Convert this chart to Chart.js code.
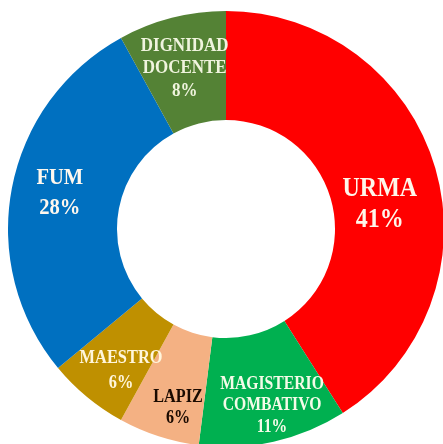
<!DOCTYPE html>
<html>
<head>
<meta charset="utf-8">
<script src="https://cdn.jsdelivr.net/npm/chart.js@4.4.1/dist/chart.umd.min.js"></script>
<style>
  html, body { margin: 0; padding: 0; background: #fff; overflow: hidden; width: 443px; height: 444px; }
  #wrap { position: absolute; left: 8px; top: 11px; width: 436px; height: 436px; }
</style>
</head>
<body>
<div id="wrap"><canvas id="chart"></canvas></div>
<script>
// Slices clockwise from 12 o'clock
const labels = ['URMA', 'MAGISTERIO COMBATIVO', 'LAPIZ', 'MAESTRO', 'FUM', 'DIGNIDAD DOCENTE'];
const labelLines = [['URMA'], ['MAGISTERIO', 'COMBATIVO'], ['LAPIZ'], ['MAESTRO'], ['FUM'], ['DIGNIDAD', 'DOCENTE']];
const values = [41, 11, 6, 6, 28, 8];
const colors = ['#FF0000', '#00B050', '#F4B183', '#BF9000', '#0070C0', '#548235'];

// label placement: [angle shift (deg), radial fraction inside ring, font size, line height, color]
const labelStyle = [
  [7, 0.43, 24, 31, '#FFF6EA'],
  [-2, 0.675, 15.7, 21.5, '#F4FBE8'],
  [-3, 0.70, 16.2, 21, '#1A0A00'],
  [-3, 0.615, 16.4, 25, '#FFF6DC'],
  [1.5, 0.56, 20.6, 30, '#FFF8EE'],
  [0, 0.525, 17, 22.5, '#F0F4DE']
];
const stretchY = 1.17;

const sliceLabels = {
  id: 'sliceLabels',
  afterDatasetsDraw(chart) {
    const ctx = chart.ctx;
    const meta = chart.getDatasetMeta(0);
    meta.data.forEach((arc, i) => {
      const p = arc.getProps(['x', 'y', 'startAngle', 'endAngle', 'innerRadius', 'outerRadius'], true);
      const st = labelStyle[i];
      const mid = (p.startAngle + p.endAngle) / 2 + st[0] * Math.PI / 180;
      const r = p.innerRadius + (p.outerRadius - p.innerRadius) * st[1];
      const cx = p.x + Math.cos(mid) * r;
      const cy = p.y + Math.sin(mid) * r;
      const lines = labelLines[i].concat([values[i] + '%']);
      const top = cy - (lines.length - 1) * st[3] / 2;
      ctx.save();
      ctx.font = 'bold ' + st[2] + 'px "Liberation Serif", "Times New Roman", serif';
      ctx.fillStyle = st[4];
      ctx.textAlign = 'center';
      ctx.textBaseline = 'middle';
      lines.forEach((t, k) => {
        ctx.save();
        ctx.translate(cx, top + k * st[3]);
        ctx.scale(1, stretchY);
        ctx.fillText(t, 0, 0);
        ctx.restore();
      });
      ctx.restore();
    });
  }
};

new Chart(document.getElementById('chart'), {
  type: 'doughnut',
  data: {
    labels,
    datasets: [{
      data: values,
      backgroundColor: colors,
      borderWidth: 0
    }]
  },
  options: {
    responsive: true,
    maintainAspectRatio: false,
    animation: false,
    cutout: '50%',
    layout: { padding: 0 },
    plugins: {
      legend: { display: false },
      tooltip: { enabled: false }
    }
  },
  plugins: [sliceLabels]
});
</script>
</body>
</html>
